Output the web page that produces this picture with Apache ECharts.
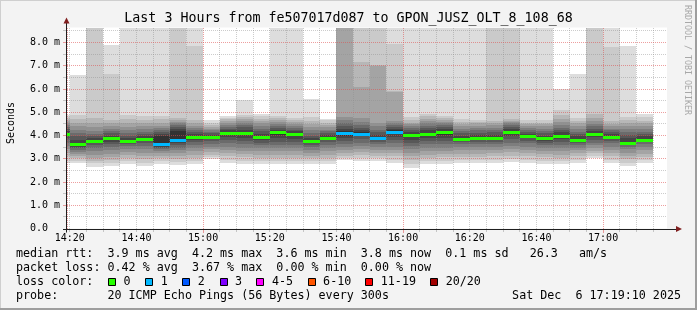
<!DOCTYPE html>
<html><head><meta charset="utf-8">
<script src="https://cdn.jsdelivr.net/npm/echarts@6/dist/echarts.min.js"></script>
<style>html,body{margin:0;padding:0;background:#f3f3f3}#c{width:697px;height:310px}</style>
</head><body><div id="c"></div>
<script>
// ---------------- data ----------------
const titleText = 'Last 3 Hours from fe507017d087 to GPON_JUSZ_OLT_8_108_68';
const yAxisName = 'Seconds';
const sideText = 'RRDTOOL / TOBI OETIKER';
const rangeStart = '14:19:10';
const rangeEnd = '17:19:10';
const intervalStarts = ['14:15','14:20','14:25','14:30','14:35','14:40','14:45','14:50','14:55','15:00','15:05','15:10','15:15','15:20','15:25','15:30','15:35','15:40','15:45','15:50','15:55','16:00','16:05','16:10','16:15','16:20','16:25','16:30','16:35','16:40','16:45','16:50','16:55','17:00','17:05','17:10'];
const medians = [4.08,3.62,3.77,3.88,3.77,3.85,3.64,3.82,3.95,3.95,4.13,4.12,3.93,4.14,4.05,3.77,3.90,4.10,4.06,3.89,4.16,4.03,4.07,4.16,3.86,3.89,3.90,4.14,3.96,3.89,3.99,3.82,4.06,3.95,3.69,3.82];
const losses = [0,0,0,0,0,0,1,1,0,0,0,0,0,0,0,0,0,1,1,1,1,0,0,0,0,0,0,0,0,0,0,0,0,0,0,0];
// 20 sorted ping times (ms) per interval
const pings = [
[2.80,2.95,3.10,3.25,3.40,3.55,3.70,3.85,3.96,4.04,4.12,4.20,4.28,4.36,4.45,4.55,4.62,4.70,4.80,4.90],
[2.80,2.92,3.02,3.10,3.20,3.30,3.38,3.45,3.52,3.58,3.66,3.80,3.98,4.12,4.26,4.40,4.55,4.72,4.90,6.60],
[2.66,2.80,2.92,3.05,3.18,3.35,3.48,3.58,3.66,3.74,3.80,3.88,3.98,4.08,4.20,4.35,4.55,4.74,9.50,9.50],
[2.69,2.82,2.95,3.08,3.22,3.38,3.52,3.64,3.74,3.84,3.92,4.00,4.10,4.20,4.30,4.40,4.52,4.66,6.63,7.88],
[2.77,2.90,3.02,3.15,3.28,3.42,3.55,3.64,3.70,3.75,3.80,3.88,3.98,4.10,4.22,4.36,4.52,4.70,4.88,9.50],
[2.70,2.84,2.98,3.12,3.26,3.40,3.54,3.66,3.76,3.82,3.88,3.96,4.06,4.16,4.28,4.40,4.54,4.68,4.84,9.50],
[2.78,2.90,3.02,3.14,3.26,3.34,3.40,3.45,3.50,3.58,4.00,4.08,4.16,4.24,4.32,4.42,4.55,4.70,4.85,9.50],
[2.75,2.88,3.00,3.12,3.24,3.36,3.48,3.58,3.68,3.78,4.20,4.28,4.36,4.44,4.52,4.60,4.68,4.76,9.50,9.50],
[2.76,2.90,3.04,3.18,3.32,3.46,3.60,3.72,3.82,3.90,3.98,4.06,4.14,4.22,4.32,4.42,4.54,4.68,7.84,9.50],
[2.99,3.08,3.18,3.28,3.40,3.52,3.64,3.76,3.86,3.93,3.98,4.04,4.10,4.16,4.22,4.30,4.38,4.46,4.56,4.66],
[2.82,2.96,3.10,3.24,3.38,3.52,3.66,3.80,3.92,4.06,4.15,4.22,4.30,4.38,4.46,4.54,4.62,4.70,4.77,4.83],
[2.78,2.92,3.06,3.20,3.34,3.48,3.62,3.76,3.90,4.04,4.16,4.26,4.36,4.46,4.56,4.64,4.72,4.80,4.88,5.52],
[2.76,2.90,3.04,3.18,3.32,3.46,3.58,3.70,3.80,3.90,3.98,4.08,4.18,4.28,4.40,4.52,4.62,4.72,4.82,4.92],
[2.76,2.90,3.04,3.18,3.32,3.46,3.60,3.74,3.88,4.02,4.18,4.26,4.34,4.42,4.50,4.58,4.66,4.74,4.85,9.50],
[2.76,2.90,3.04,3.18,3.32,3.46,3.60,3.74,3.86,3.98,4.10,4.18,4.26,4.34,4.42,4.50,4.58,4.66,4.74,9.50],
[2.78,2.90,3.02,3.14,3.26,3.38,3.50,3.60,3.68,3.74,3.80,3.90,4.00,4.12,4.24,4.36,4.50,4.64,4.78,5.59],
[2.76,2.90,3.04,3.18,3.32,3.46,3.60,3.72,3.82,3.88,3.94,4.02,4.10,4.18,4.26,4.36,4.46,4.56,4.65,4.73],
[2.94,3.04,3.14,3.24,3.36,3.50,3.64,3.78,3.90,4.00,4.18,4.28,4.40,4.52,4.66,4.80,9.50,9.50,9.50,9.50],
[2.92,3.04,3.16,3.28,3.42,3.56,3.70,3.84,3.96,4.04,4.14,4.24,4.34,4.46,4.60,4.76,6.09,7.17,9.50,9.50],
[2.90,3.02,3.14,3.26,3.38,3.50,3.62,3.72,3.80,3.86,3.94,4.04,4.14,4.26,4.40,4.56,7.00,7.05,9.50,9.50],
[2.82,2.96,3.10,3.24,3.38,3.52,3.66,3.80,3.94,4.08,4.22,4.30,4.38,4.46,4.54,4.62,5.88,5.90,7.93,9.50],
[2.61,2.78,2.94,3.10,3.26,3.42,3.56,3.70,3.82,3.96,4.08,4.16,4.24,4.32,4.40,4.48,4.56,4.66,4.80,9.50],
[2.76,2.90,3.04,3.18,3.32,3.48,3.62,3.76,3.88,4.00,4.12,4.22,4.32,4.42,4.52,4.62,4.72,4.82,4.94,9.50],
[2.78,2.92,3.06,3.20,3.34,3.48,3.62,3.76,3.90,4.04,4.20,4.28,4.36,4.44,4.52,4.60,4.68,4.76,4.86,9.50],
[2.80,2.94,3.08,3.22,3.36,3.50,3.62,3.72,3.80,3.84,3.90,4.00,4.10,4.20,4.30,4.40,4.50,4.60,4.70,9.50],
[2.80,2.94,3.08,3.22,3.36,3.50,3.62,3.72,3.80,3.86,3.92,4.02,4.12,4.22,4.32,4.42,4.52,4.60,4.68,9.50],
[2.83,2.96,3.10,3.24,3.38,3.52,3.64,3.74,3.82,3.87,3.94,4.04,4.14,4.24,4.34,4.44,4.54,4.64,9.50,9.50],
[2.88,3.00,3.14,3.28,3.42,3.56,3.70,3.84,3.96,4.08,4.20,4.28,4.36,4.44,4.52,4.58,4.64,4.70,9.50,9.50],
[2.83,2.96,3.10,3.24,3.38,3.52,3.66,3.78,3.88,3.94,4.00,4.08,4.16,4.24,4.32,4.40,4.48,4.56,4.66,9.50],
[2.79,2.92,3.06,3.20,3.34,3.48,3.60,3.70,3.78,3.85,3.92,4.00,4.10,4.20,4.30,4.40,4.48,4.56,4.66,9.50],
[2.76,2.90,3.04,3.18,3.32,3.46,3.60,3.74,3.86,3.95,4.04,4.14,4.24,4.34,4.46,4.58,4.72,4.88,5.09,6.02],
[2.82,2.96,3.10,3.24,3.36,3.48,3.60,3.70,3.76,3.80,3.86,3.96,4.06,4.16,4.28,4.40,4.52,4.62,4.74,6.64],
[3.05,3.14,3.24,3.34,3.46,3.58,3.70,3.82,3.94,4.04,4.10,4.20,4.30,4.40,4.50,4.62,4.76,4.92,9.50,9.50],
[2.82,2.96,3.10,3.24,3.38,3.52,3.66,3.78,3.88,3.93,3.98,4.06,4.14,4.22,4.30,4.40,4.50,4.62,7.81,9.50],
[2.70,2.84,2.98,3.12,3.26,3.40,3.52,3.60,3.65,3.68,3.74,3.88,4.02,4.16,4.30,4.42,4.54,4.66,4.80,7.86],
[2.80,2.94,3.08,3.22,3.36,3.50,3.62,3.72,3.78,3.81,3.86,3.96,4.06,4.16,4.28,4.40,4.52,4.64,4.78,4.92]
];
const yTickLabels = ['0.0  ','1.0 m','2.0 m','3.0 m','4.0 m','5.0 m','6.0 m','7.0 m','8.0 m'];
const xTickLabels = ['14:20','14:40','15:00','15:20','15:40','16:00','16:20','16:40','17:00'];
const legendRows = [
  'median rtt:  3.9 ms avg  4.2 ms max  3.6 ms min  3.8 ms now  0.1 ms sd   26.3   am/s',
  'packet loss: 0.42 % avg  3.67 % max  0.00 % min  0.00 % now',
  'loss color:',
  'probe:       20 ICMP Echo Pings (56 Bytes) every 300s'
];
const stampText = 'Sat Dec  6 17:19:10 2025';
const lossLabels = ['0','1','2','3','4-5','6-10','11-19','20/20'];
const lossMaxCount = [0,1,2,3,5,10,19,20];
const lossColors = ['#26ff00','#00b8ff','#0059ff','#7e00ff','#ff00ff','#ff5500','#ff0000','#a10000'];

// ---------------- layout / style ----------------
const smokeColors = ['#dddddd','#cacaca','#b7b7b7','#a4a4a4','#919191','#7e7e7e','#6b6b6b','#585858','#454545','#323232'];
const MONO = '"DejaVu Sans Mono", monospace';
const GL = 67, GT = 27.5, GW = 600, GH = 201, YMAX = 8.65;
const GRIDC = 'rgba(143,143,143,0.45)', MGRIDC = 'rgba(222,79,79,0.55)';
const AXISC = '#1f1f1f', ARROWC = '#801f1f';

const toMin = s => { const p = s.split(':').map(Number); return p[0]*60 + p[1] + (p[2]||0)/60; };
const X0 = toMin(rangeStart), X1 = toMin(rangeEnd);

const smokeData = intervalStarts.map((t,i) => [toMin(t), toMin(t)+5].concat(pings[i]));
const medianData = intervalStarts.map((t,i) => [toMin(t), toMin(t)+5, medians[i], losses[i]]);
const lossColorOf = n => { for (let k=0;k<lossMaxCount.length;k++) if (n <= lossMaxCount[k]) return lossColors[k]; return lossColors[lossColors.length-1]; };

// grid lines: [xStart, yStart, xEnd, yEnd, major, tick]
const gridLines = [];
for (let m = Math.ceil(X0/5)*5; m < X1; m += 5) gridLines.push([m, 0, m, YMAX, m % 60 === 0 ? 1 : 0, 1]);
for (let v = 0.5; v < YMAX; v += 0.5) gridLines.push([X0, v, X1, v, Number.isInteger(v) ? 1 : 0, 1]);
gridLines.push([X0, 0, X0, YMAX, 1, 0]);
const xLabelData = xTickLabels.map(s => [toMin(s), 0]);

function clipX(cs, x){ return Math.min(Math.max(x, cs.x), cs.x + cs.width); }
function clipY(cs, y){ return Math.min(Math.max(y, cs.y), cs.y + cs.height); }

function renderSmoke(params, api){
  const cs = params.coordSys;
  const xa = Math.round(clipX(cs, api.coord([api.value(0), 0])[0]));
  const xb = Math.round(clipX(cs, api.coord([api.value(1), 0])[0]));
  const children = [];
  if (xb <= xa) return {type:'group', children};
  for (let b = 0; b < 10; b++){
    const lo = api.value(2 + b), hi = api.value(21 - b);
    const yLo = Math.round(clipY(cs, api.coord([0, lo])[1]));
    const yHi = Math.round(clipY(cs, api.coord([0, hi])[1]));
    if (yLo <= yHi) continue;
    children.push({type:'rect', shape:{x:xa, y:yHi, width:xb-xa, height:yLo-yHi}, style:{fill:smokeColors[b]}});
  }
  return {type:'group', children};
}
function renderMedian(params, api){
  const cs = params.coordSys;
  const xa = Math.round(clipX(cs, api.coord([api.value(0), 0])[0]));
  const xb = Math.round(clipX(cs, api.coord([api.value(1), 0])[0]));
  if (xb <= xa) return {type:'group', children:[]};
  const y = Math.round(api.coord([0, api.value(2)])[1]);
  return {type:'rect', shape:{x:xa, y:y-1, width:xb-xa, height:3}, style:{fill:lossColorOf(api.value(3))}};
}
function renderGrid(params, api){
  const cs = params.coordSys;
  const p0 = api.coord([api.value(0), api.value(1)]);
  const p1 = api.coord([api.value(2), api.value(3)]);
  const major = api.value(4) === 1, tick = api.value(5) === 1;
  const col = major ? MGRIDC : GRIDC;
  const children = [];
  if (Math.abs(p0[0] - p1[0]) < 0.5) { // vertical
    const x = Math.floor(p0[0]);
    const ya = Math.round(Math.min(p0[1], p1[1])), yb = Math.round(Math.max(p0[1], p1[1]));
    for (let y = yb - 1; y >= ya; y -= 2) children.push({type:'rect', shape:{x:x, y:y, width:1, height:1}, style:{fill:col}});
    if (tick) children.push({type:'rect', shape:{x:x, y:yb+1, width:1, height:major?3:2}, style:{fill:col}});
  } else { // horizontal
    const y = Math.floor(p0[1]);
    const xa = Math.round(Math.min(p0[0], p1[0])), xb = Math.round(Math.max(p0[0], p1[0]));
    for (let x = xa; x < xb; x += 2) children.push({type:'rect', shape:{x:x, y:y, width:1, height:1}, style:{fill:col}});
    if (tick) children.push({type:'rect', shape:{x:xa-4, y:y, width:3, height:1}, style:{fill:col}});
  }
  return {type:'group', children};
}
function renderXLabel(params, api){
  const cs = params.coordSys;
  const x = api.coord([api.value(0), 0])[0];
  return {type:'text', x: x, y: cs.y + cs.height + 9.5,
    style:{text: xTickLabels[params.dataIndex], font: '10px ' + MONO, fill:'#000', align:'center', textAlign:'center', verticalAlign:'middle', textVerticalAlign:'middle'}};
}

const chart = echarts.init(document.getElementById('c'), null, {renderer:'canvas'});
const txt = (text, x, y, font, opts) => Object.assign({type:'text', x, y, silent:true,
  style: Object.assign({text, font, fill:'#000', align:'left', textAlign:'left', verticalAlign:'middle', textVerticalAlign:'middle'}, (opts&&opts.style)||{})}, opts && opts.rotation !== undefined ? {rotation: opts.rotation} : {});

const graphics = [
  {type:'rect', shape:{x:0,y:0,width:697,height:1}, style:{fill:'#cfcfcf'}, silent:true},
  {type:'rect', shape:{x:0,y:0,width:1,height:310}, style:{fill:'#cfcfcf'}, silent:true},
  {type:'rect', shape:{x:0,y:308,width:697,height:2}, style:{fill:'#9e9e9e'}, silent:true},
  {type:'rect', shape:{x:695,y:0,width:2,height:310}, style:{fill:'#9e9e9e'}, silent:true},
  // axes
  {type:'rect', shape:{x:GL-1, y:GT-6, width:1, height:GH+10}, style:{fill:AXISC}, silent:true, z:10},
  {type:'polygon', shape:{points:[[GL-3.5,GT-4],[GL-0.5,GT-10],[GL+2.5,GT-4]]}, style:{fill:ARROWC}, silent:true, z:10},
  {type:'rect', shape:{x:GL-4, y:Math.round(GT+GH), width:GW+14, height:1}, style:{fill:AXISC}, silent:true, z:10},
  {type:'polygon', shape:{points:[[GL+GW+9,GT+GH-2.5],[GL+GW+15,GT+GH+0.5],[GL+GW+9,GT+GH+3.5]]}, style:{fill:ARROWC}, silent:true, z:10},
  // texts
  txt(titleText, 348.5, 19, '13.3px ' + MONO, {style:{align:'center', textAlign:'center'}}),
  txt(yAxisName, 11, 123, '10px ' + MONO, {rotation: Math.PI/2, style:{align:'center', textAlign:'center'}}),
  txt(sideText, 687.5, 60, '8.3px ' + MONO, {rotation: -Math.PI/2, style:{align:'center', textAlign:'center', fill:'#a8a8a8'}}),
  txt(legendRows[0], 16, 254, '11.7px ' + MONO),
  txt(legendRows[1], 16, 268, '11.7px ' + MONO),
  txt(legendRows[2], 16, 282, '11.7px ' + MONO),
  txt(legendRows[3], 16, 296, '11.7px ' + MONO),
  txt(stampText, 681, 296, '11.7px ' + MONO, {style:{align:'right', textAlign:'right'}})
];
const sqX = [108, 145.3, 182.2, 219.6, 256.4, 307.6, 365.3, 430.2];
lossLabels.forEach((lab, k) => {
  graphics.push({type:'rect', shape:{x:Math.round(sqX[k])+0.5, y:278.5, width:7, height:7}, style:{fill:lossColors[k], stroke:'#000', lineWidth:1}, silent:true});
  graphics.push(txt(lab, sqX[k] + 15.5, 282, '11.7px ' + MONO));
});

chart.setOption({
  animation:false,
  backgroundColor:'#f3f3f3',
  grid:{left:GL, top:GT, width:GW, height:GH, show:true, backgroundColor:'#ffffff', borderWidth:0},
  xAxis:{type:'value', min:X0, max:X1, show:false},
  yAxis:{type:'value', min:0, max:YMAX, interval:0.5,
    axisLine:{show:false}, axisTick:{show:false}, splitLine:{show:false},
    axisLabel:{show:true, margin:7, color:'#000', fontFamily:'DejaVu Sans Mono', fontSize:10,
      formatter: v => (Math.abs(v - Math.round(v)) < 1e-9 && Math.round(v) < yTickLabels.length) ? yTickLabels[Math.round(v)] : ''}},
  series:[
    {type:'custom', name:'smoke', renderItem:renderSmoke, data:smokeData, z:1, silent:true},
    {type:'custom', name:'grid', renderItem:renderGrid, data:gridLines, z:2, silent:true},
    {type:'custom', name:'median', renderItem:renderMedian, data:medianData, z:3, silent:true},
    {type:'custom', name:'xlabels', renderItem:renderXLabel, data:xLabelData, z:4, silent:true}
  ],
  graphic:{elements:graphics}
});
</script></body></html>
